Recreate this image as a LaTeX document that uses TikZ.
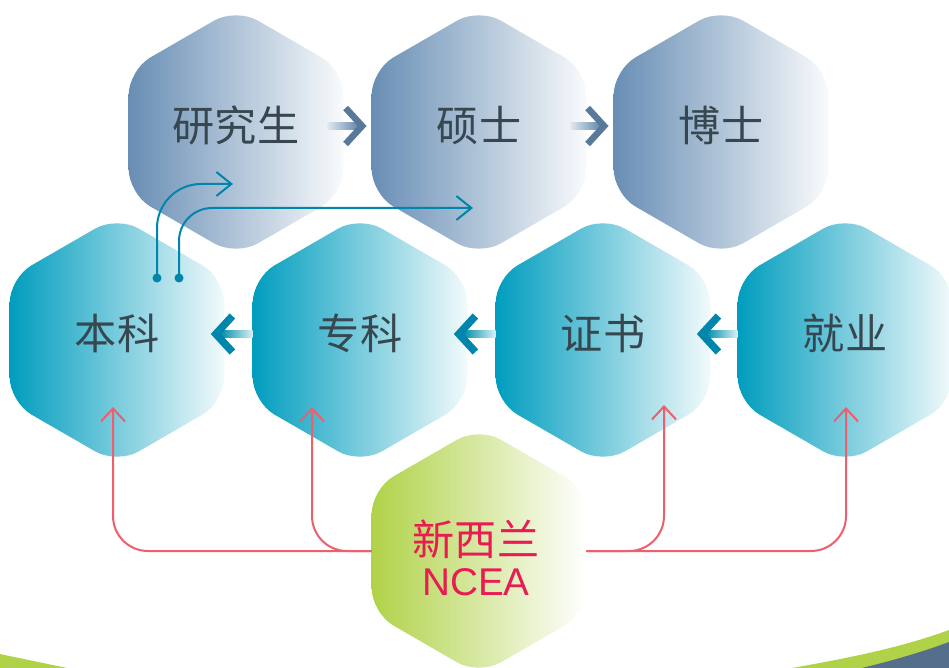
\documentclass[tikz,border=0pt]{standalone}
\usepackage{fontspec}
\newfontfamily\cjk{Noto Sans CJK SC}
\newfontfamily\latinsans{Liberation Sans}
\usetikzlibrary{calc,arrows.meta,shapes.geometric}

\definecolor{hexsteel}{RGB}{104,142,180}
\definecolor{hexteal}{RGB}{0,157,190}
\definecolor{hexlime}{RGB}{176,210,72}
\definecolor{txtgray}{RGB}{55,71,79}
\definecolor{nceared}{RGB}{232,28,82}
\definecolor{linkblue}{RGB}{0,134,172}
\definecolor{linkred}{RGB}{238,94,108}
\definecolor{photo}{RGB}{84,110,140}

\tikzset{
	hexa/.style={regular polygon, regular polygon sides=6, shape border rotate=30,
		minimum size=4.96cm, inner sep=0pt, outer sep=0pt, rounded corners=0.5cm},
	tophex/.style={hexa, left color=hexsteel, right color=hexsteel!4},
	midhex/.style={hexa, left color=hexteal, right color=hexteal!5},
	ncehex/.style={hexa, left color=hexlime, right color=white},
	hexlabel/.style={text=txtgray, font=\fontsize{24}{28}\selectfont\cjk},
	chevtop/.style={draw=hexsteel!85!black, line width=0.13cm, line cap=butt, line join=miter},
	chevmid/.style={draw=linkblue, line width=0.15cm, line cap=butt, line join=miter},
	bluelink/.style={draw=linkblue, line width=0.04cm, -{Straight Barb[length=0.3cm,width=0.48cm]}},
	redlink/.style={draw=linkred, line width=0.04cm, rounded corners=0.7cm,
		-{Straight Barb[length=0.26cm,width=0.48cm]}},
}

\begin{document}
\begin{tikzpicture}[x=0.02cm,y=-0.02cm]

	\useasboundingbox (0,0) rectangle (949,668);
	\clip (0,0) rectangle (949,668);

	% ---- green band at the bottom

	\fill[hexlime] (0,654) -- (67,668) -- (0,668) -- cycle;
	\fill[hexlime] (792,668) .. controls (860,656) and (905,646) .. (949,630) -- (949,668) -- cycle;
	\fill[photo] (862,668) .. controls (895,660) and (925,651) .. (949,642) -- (949,668) -- cycle;

	% ---- hexagons

	\foreach \n/\x/\t in {yjs/236/研究生, ss/479/硕士, bs/721/博士} {
		\node[tophex] (\n) at (\x,132) {};
		\node[hexlabel] (\n-t) at ([yshift=0.13cm]\n) {\t};
	}

	\foreach \n/\x/\t in {bk/117/本科, zk/360/专科, zs/603/证书, jy/845/就业} {
		\node[midhex] (\n) at (\x,340) {};
		\node[hexlabel] (\n-t) at ([yshift=0.13cm]\n) {\t};
	}

	\node[ncehex] (ncea) at (479,551) {};
	\node[text=nceared, font=\fontsize{24}{28}\selectfont\cjk] (ncea-t1) at (476,539) {新西兰};
	\node[text=nceared, font=\fontsize{22}{26}\selectfont\latinsans] (ncea-t2) at (476,582) {NCEA};

	% ---- chevrons between hexagons

	\foreach \a/\b in {yjs/ss, ss/bs} {
		\shade[left color=hexsteel!20, right color=hexsteel!95!black]
			($(\a.east)+(-16,-9.5)$) rectangle ($(\b.west)+(-13,-2.5)$);
		\draw[chevtop] ($(\b.west)+(-26,-24)$) -- ($(\b.west)+(-9.5,-6)$) -- ($(\b.west)+(-26,12)$);
	}

	\foreach \a/\b in {zk/bk, zs/zk, jy/zs} {
		\shade[left color=hexteal!90!black, right color=hexteal!15]
			($(\b.east)+(-4,-9.5)$) rectangle ($(\a.west)+(0,-2.5)$);
		\draw[chevmid] ($(\b.east)+(8,-24)$) -- ($(\b.east)+(-8.5,-6)$) -- ($(\b.east)+(8,12)$);
	}

	% ---- blue links from bk

	\coordinate (bk-p1) at ($(bk)+(40,-62)$);
	\coordinate (bk-p2) at ($(bk)+(62,-62)$);
	\draw[bluelink, rounded corners=0.88cm] (bk-p1) |- ($(yjs)+(-3,52)$);
	\draw[bluelink, rounded corners=0.66cm] (bk-p2) |- ($(ss)+(-6,76)$);
	\fill[linkblue] (bk-p1) circle (0.09cm) (bk-p2) circle (0.09cm);

	% ---- red links from ncea

	\draw[redlink] (ncea.west) -| ($(bk)+(-4,67)$);
	\draw[redlink] (ncea.west) -| ($(zk)+(-48,67)$);
	\draw[redlink] (ncea.east) -| ($(zs)+(61,65)$);
	\draw[redlink] (ncea.east) -| ($(jy)+(1,67)$);

\end{tikzpicture}
\end{document}
